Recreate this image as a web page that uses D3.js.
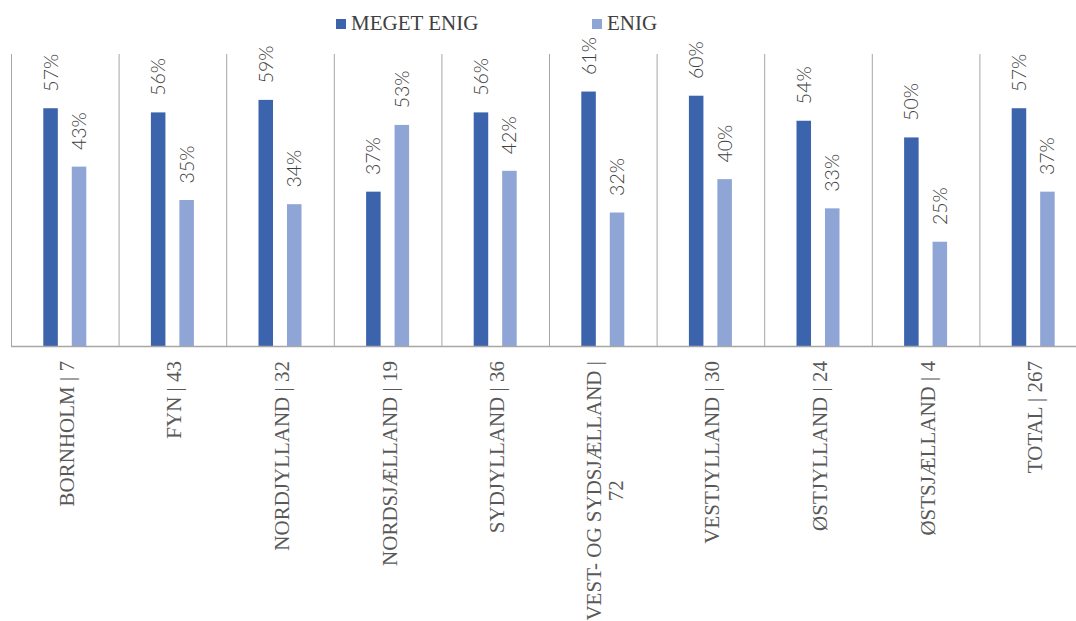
<!DOCTYPE html>
<html>
<head>
<meta charset="utf-8">
<script src="https://cdn.jsdelivr.net/npm/d3@7"></script>
<style>
  html, body { margin: 0; padding: 0; background: #ffffff; }
  svg { display: block; }
</style>
</head>
<body>
<svg id="chart" width="1076" height="621"></svg>
<script>
const categories = [
  "BORNHOLM | 7", "FYN | 43", "NORDJYLLAND | 32", "NORDSJÆLLAND | 19",
  "SYDJYLLAND | 36", "VEST- OG SYDSJÆLLAND | 72", "VESTJYLLAND | 30",
  "ØSTJYLLAND | 24", "ØSTSJÆLLAND | 4", "TOTAL | 267"
];
const seriesNames = ["MEGET ENIG", "ENIG"];
const megetEnig = [0.57, 0.56, 0.59, 0.37, 0.56, 0.61, 0.60, 0.54, 0.50, 0.57];
const enig      = [0.43, 0.35, 0.34, 0.53, 0.42, 0.32, 0.40, 0.33, 0.25, 0.37];
const seriesColors = ["#3C64AD", "#8FA5D6"];

const svg = d3.select("#chart");
const W = 1076, H = 621;
const plotLeft = 11, bandW = 107.6, baseY = 346, topY = 54;

const x0 = d3.scaleBand().domain(categories)
  .range([plotLeft, plotLeft + bandW * categories.length]).padding(0);
const x1 = d3.scaleBand().domain(seriesNames).range([-21.5, 21.5]).paddingInner(0.49).paddingOuter(0);
const y = d3.scaleLinear().domain([0, 0.7]).range([baseY, topY]);

const rows = categories.map((c, i) => ({cat: c, vals: [megetEnig[i], enig[i]]}));

// dividers
svg.append("g").selectAll("line").data(categories).join("line")
  .attr("x1", d => x0(d) + 0.5).attr("x2", d => x0(d) + 0.5)
  .attr("y1", y(0.7)).attr("y2", baseY)
  .attr("stroke", "#A6A6A6").attr("stroke-width", 1);

// bars
const g = svg.append("g");
rows.forEach(r => {
  const cx = x0(r.cat) + x0.bandwidth() / 2;
  r.vals.forEach((v, si) => {
    const bx = cx + x1(seriesNames[si]);
    g.append("rect")
      .attr("x", bx).attr("width", x1.bandwidth())
      .attr("y", y(v)).attr("height", baseY - y(v))
      .attr("fill", seriesColors[si]);
    g.append("text")
      .attr("transform", `translate(${bx + x1.bandwidth() / 2},${y(v) - 16.6}) rotate(-90)`)
      .attr("x", 0).attr("y", 7)
      .attr("text-anchor", "start")
      .attr("font-family", "Lato, 'Open Sans', sans-serif")
      .attr("font-weight", 300)
      .attr("font-size", 19.5)
      .attr("fill", "#404040")
      .text(d3.format(".0%")(v));
  });
});

// axis baseline
svg.append("line").attr("x1", plotLeft).attr("x2", W)
  .attr("y1", baseY + 0.5).attr("y2", baseY + 0.5)
  .attr("stroke", "#A6A6A6").attr("stroke-width", 1.5);

// category labels
const maxLen = 270;
const lg = svg.append("g");
categories.forEach(c => {
  const cx = x0(c) + x0.bandwidth() / 2;
  const t = lg.append("g").attr("transform", `translate(${cx},361) rotate(-90)`);
  const mk = () => t.append("text")
    .attr("font-family", "'Liberation Serif', 'Times New Roman', serif")
    .attr("font-size", 21).attr("fill", "#595959");
  // wrap words
  const words = c.split(" ");
  const lines = [];
  let cur = [];
  const probe = mk();
  words.forEach(w => {
    const test = cur.concat([w]).join(" ");
    probe.text(test);
    if (probe.node().getComputedTextLength() > maxLen && cur.length) {
      lines.push(cur.join(" "));
      cur = [w];
    } else cur.push(w);
  });
  lines.push(cur.join(" "));
  probe.remove();
  const lens = lines.map(l => { const p = mk().text(l); const L = p.node().getComputedTextLength(); p.remove(); return L; });
  const maxL = d3.max(lens);
  const n = lines.length;
  lines.forEach((l, i) => {
    mk().attr("text-anchor", "middle")
      .attr("x", -maxL / 2)
      .attr("y", 9 + (i - (n - 1) / 2) * 21.5)
      .text(l);
  });
});

// legend
const legendX = [336, 592];
seriesNames.forEach((s, i) => {
  svg.append("rect").attr("x", legendX[i]).attr("y", 19).attr("width", 10).attr("height", 10)
    .attr("fill", seriesColors[i]);
  svg.append("text").attr("x", legendX[i] + 15).attr("y", 30)
    .attr("font-family", "'Liberation Serif', 'Times New Roman', serif")
    .attr("font-size", 21).attr("fill", "#404040")
    .text(s);
});
</script>
</body>
</html>
